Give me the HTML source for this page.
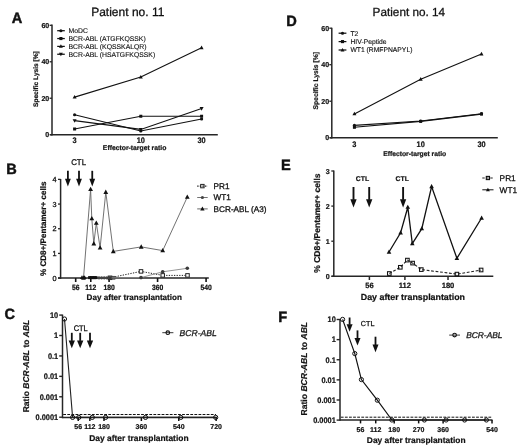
<!DOCTYPE html>
<html><head><meta charset="utf-8"><style>
html,body{margin:0;padding:0;background:#fff;width:520px;height:446px;overflow:hidden}
svg{display:block;will-change:transform}
text{font-family:"Liberation Sans", sans-serif;stroke:#111;stroke-width:0.28px;text-rendering:geometricPrecision}
text[font-weight="bold"]{stroke-width:0.2px}
</style></head><body>
<svg width="520" height="446" viewBox="0 0 520 446">
<rect width="520" height="446" fill="#fff"/>
<text transform="translate(11.85,22.60) scale(1,1.02)" font-size="14.6" font-weight="bold" text-anchor="start" fill="#111" style="stroke-width:0.45px">A</text>
<text x="91.20" y="15.60" font-size="12.0" text-anchor="start" fill="#111">Patient no. 11</text>
<line x1="52.00" y1="24.60" x2="52.00" y2="135.45" stroke="#262626" stroke-width="1.5" stroke-linecap="butt"/>
<line x1="50.20" y1="134.70" x2="217.80" y2="134.70" stroke="#262626" stroke-width="1.5" stroke-linecap="butt"/>
<line x1="49.60" y1="134.70" x2="52.00" y2="134.70" stroke="#262626" stroke-width="1.3" stroke-linecap="butt"/>
<text x="49.30" y="137.35" font-size="7.1" font-weight="bold" text-anchor="end" fill="#111">0</text>
<line x1="49.60" y1="98.24" x2="52.00" y2="98.24" stroke="#262626" stroke-width="1.3" stroke-linecap="butt"/>
<text x="49.30" y="100.89" font-size="7.1" font-weight="bold" text-anchor="end" fill="#111">20</text>
<line x1="49.60" y1="61.78" x2="52.00" y2="61.78" stroke="#262626" stroke-width="1.3" stroke-linecap="butt"/>
<text x="49.30" y="64.43" font-size="7.1" font-weight="bold" text-anchor="end" fill="#111">40</text>
<line x1="49.60" y1="25.32" x2="52.00" y2="25.32" stroke="#262626" stroke-width="1.3" stroke-linecap="butt"/>
<text x="49.30" y="27.97" font-size="7.1" font-weight="bold" text-anchor="end" fill="#111">60</text>
<text transform="translate(74.60,143.10) scale(1,1.1)" font-size="7.4" font-weight="bold" text-anchor="middle" fill="#111">3</text>
<text transform="translate(140.80,143.10) scale(1,1.1)" font-size="7.4" font-weight="bold" text-anchor="middle" fill="#111">10</text>
<text transform="translate(201.60,143.10) scale(1,1.1)" font-size="7.4" font-weight="bold" text-anchor="middle" fill="#111">30</text>
<text x="134.60" y="149.60" font-size="6.8" font-weight="bold" text-anchor="middle" fill="#111">Effector-target ratio</text>
<text transform="translate(38.40,79.10) rotate(-90)" font-size="6.6" font-weight="bold" text-anchor="middle" fill="#111">Specific Lysis [%]</text>
<polyline points="74.60,114.75 140.80,131.00 201.60,119.00" fill="none" stroke="#111" stroke-width="1.1" stroke-linejoin="miter"/>
<circle cx="74.60" cy="114.75" r="1.6" fill="#111"/>
<circle cx="140.80" cy="131.00" r="1.6" fill="#111"/>
<circle cx="201.60" cy="119.00" r="1.6" fill="#111"/>
<polyline points="74.60,129.00 140.80,116.25 201.60,116.25" fill="none" stroke="#111" stroke-width="1.1" stroke-linejoin="miter"/>
<rect x="73.10" y="127.50" width="3.0" height="3.0" fill="#111"/>
<rect x="139.30" y="114.75" width="3.0" height="3.0" fill="#111"/>
<rect x="200.10" y="114.75" width="3.0" height="3.0" fill="#111"/>
<polyline points="74.60,97.10 140.80,77.10 201.60,47.75" fill="none" stroke="#111" stroke-width="1.1" stroke-linejoin="miter"/>
<polygon points="74.60,94.94 72.60,98.54 76.60,98.54" fill="#111"/>
<polygon points="140.80,74.94 138.80,78.54 142.80,78.54" fill="#111"/>
<polygon points="201.60,45.59 199.60,49.19 203.60,49.19" fill="#111"/>
<polyline points="74.60,120.60 140.80,129.40 201.60,108.50" fill="none" stroke="#111" stroke-width="1.1" stroke-linejoin="miter"/>
<polygon points="74.60,122.76 72.60,119.16 76.60,119.16" fill="#111"/>
<polygon points="140.80,131.56 138.80,127.96 142.80,127.96" fill="#111"/>
<polygon points="201.60,110.66 199.60,107.06 203.60,107.06" fill="#111"/>
<line x1="57.20" y1="30.70" x2="64.80" y2="30.70" stroke="#111" stroke-width="1.25" stroke-linecap="butt"/>
<circle cx="60.90" cy="30.70" r="1.55" fill="#111"/>
<text x="68.50" y="33.15" font-size="6.85" text-anchor="start" fill="#111" style="stroke-width:0.12px">MoDC</text>
<line x1="57.20" y1="38.55" x2="64.80" y2="38.55" stroke="#111" stroke-width="1.25" stroke-linecap="butt"/>
<rect x="59.35" y="37.00" width="3.1" height="3.1" fill="#111"/>
<text x="68.50" y="41.00" font-size="6.85" text-anchor="start" fill="#111" style="stroke-width:0.12px">BCR-ABL (ATGFKQSSK)</text>
<line x1="57.20" y1="46.40" x2="64.80" y2="46.40" stroke="#111" stroke-width="1.25" stroke-linecap="butt"/>
<polygon points="60.90,44.29 58.95,47.80 62.85,47.80" fill="#111"/>
<text x="68.50" y="48.85" font-size="6.85" text-anchor="start" fill="#111" style="stroke-width:0.12px">BCR-ABL (KQSSKALQR)</text>
<line x1="57.20" y1="54.25" x2="64.80" y2="54.25" stroke="#111" stroke-width="1.25" stroke-linecap="butt"/>
<polygon points="60.90,56.36 58.95,52.85 62.85,52.85" fill="#111"/>
<text x="68.50" y="56.70" font-size="6.85" text-anchor="start" fill="#111" style="stroke-width:0.12px">BCR-ABL (HSATGFKQSSK)</text>
<text transform="translate(286.20,26.30) scale(1,1.02)" font-size="14.6" font-weight="bold" text-anchor="start" fill="#111" style="stroke-width:0.45px">D</text>
<text x="372.60" y="15.60" font-size="11.75" text-anchor="start" fill="#111">Patient no. 14</text>
<line x1="331.80" y1="27.80" x2="331.80" y2="138.50" stroke="#262626" stroke-width="1.5" stroke-linecap="butt"/>
<line x1="329.90" y1="137.75" x2="497.80" y2="137.75" stroke="#262626" stroke-width="1.5" stroke-linecap="butt"/>
<line x1="329.30" y1="137.75" x2="331.80" y2="137.75" stroke="#262626" stroke-width="1.3" stroke-linecap="butt"/>
<text x="329.10" y="140.40" font-size="7.1" font-weight="bold" text-anchor="end" fill="#111">0</text>
<line x1="329.30" y1="101.23" x2="331.80" y2="101.23" stroke="#262626" stroke-width="1.3" stroke-linecap="butt"/>
<text x="329.10" y="103.88" font-size="7.1" font-weight="bold" text-anchor="end" fill="#111">20</text>
<line x1="329.30" y1="64.71" x2="331.80" y2="64.71" stroke="#262626" stroke-width="1.3" stroke-linecap="butt"/>
<text x="329.10" y="67.36" font-size="7.1" font-weight="bold" text-anchor="end" fill="#111">40</text>
<line x1="329.30" y1="28.19" x2="331.80" y2="28.19" stroke="#262626" stroke-width="1.3" stroke-linecap="butt"/>
<text x="329.10" y="30.84" font-size="7.1" font-weight="bold" text-anchor="end" fill="#111">60</text>
<text transform="translate(354.40,146.60) scale(1,1.1)" font-size="7.4" font-weight="bold" text-anchor="middle" fill="#111">3</text>
<text transform="translate(420.70,146.60) scale(1,1.1)" font-size="7.4" font-weight="bold" text-anchor="middle" fill="#111">10</text>
<text transform="translate(481.50,146.60) scale(1,1.1)" font-size="7.4" font-weight="bold" text-anchor="middle" fill="#111">30</text>
<text x="414.70" y="155.60" font-size="6.75" font-weight="bold" text-anchor="middle" fill="#111">Effector-target ratio</text>
<text transform="translate(318.00,80.80) rotate(-90)" font-size="6.8" font-weight="bold" text-anchor="middle" fill="#111">Specific Lysis [%]</text>
<polyline points="354.40,125.40 420.70,121.00 481.50,113.70" fill="none" stroke="#111" stroke-width="1.1" stroke-linejoin="miter"/>
<circle cx="354.40" cy="125.40" r="1.6" fill="#111"/>
<circle cx="420.70" cy="121.00" r="1.6" fill="#111"/>
<circle cx="481.50" cy="113.70" r="1.6" fill="#111"/>
<polyline points="354.40,127.30 420.70,121.40 481.50,114.10" fill="none" stroke="#111" stroke-width="1.1" stroke-linejoin="miter"/>
<rect x="352.90" y="125.80" width="3.0" height="3.0" fill="#111"/>
<rect x="419.20" y="119.90" width="3.0" height="3.0" fill="#111"/>
<rect x="480.00" y="112.60" width="3.0" height="3.0" fill="#111"/>
<polyline points="354.40,113.90 420.70,79.20 481.50,54.00" fill="none" stroke="#111" stroke-width="1.1" stroke-linejoin="miter"/>
<polygon points="354.40,111.74 352.40,115.34 356.40,115.34" fill="#111"/>
<polygon points="420.70,77.04 418.70,80.64 422.70,80.64" fill="#111"/>
<polygon points="481.50,51.84 479.50,55.44 483.50,55.44" fill="#111"/>
<line x1="338.60" y1="33.20" x2="346.40" y2="33.20" stroke="#111" stroke-width="1.25" stroke-linecap="butt"/>
<circle cx="342.50" cy="33.20" r="1.55" fill="#111"/>
<text x="350.50" y="35.65" font-size="6.75" text-anchor="start" fill="#111" style="stroke-width:0.12px">T2</text>
<line x1="338.60" y1="41.60" x2="346.40" y2="41.60" stroke="#111" stroke-width="1.25" stroke-linecap="butt"/>
<rect x="340.95" y="40.05" width="3.1" height="3.1" fill="#111"/>
<text x="350.50" y="44.05" font-size="6.75" text-anchor="start" fill="#111" style="stroke-width:0.12px">HIV-Peptide</text>
<line x1="338.60" y1="50.00" x2="346.40" y2="50.00" stroke="#111" stroke-width="1.25" stroke-linecap="butt"/>
<polygon points="342.50,47.89 340.55,51.40 344.45,51.40" fill="#111"/>
<text x="350.50" y="52.45" font-size="6.75" text-anchor="start" fill="#111" style="stroke-width:0.12px">WT1 (RMFPNAPYL)</text>
<text transform="translate(6.20,173.60) scale(1,1.02)" font-size="14.6" font-weight="bold" text-anchor="start" fill="#111" style="stroke-width:0.45px">B</text>
<line x1="60.60" y1="179.00" x2="60.60" y2="278.85" stroke="#262626" stroke-width="1.5" stroke-linecap="butt"/>
<line x1="58.00" y1="278.10" x2="208.80" y2="278.10" stroke="#262626" stroke-width="1.5" stroke-linecap="butt"/>
<line x1="58.00" y1="278.10" x2="60.60" y2="278.10" stroke="#262626" stroke-width="1.3" stroke-linecap="butt"/>
<text x="56.60" y="280.70" font-size="7.3" text-anchor="end" fill="#111">0</text>
<line x1="58.00" y1="253.42" x2="60.60" y2="253.42" stroke="#262626" stroke-width="1.3" stroke-linecap="butt"/>
<text x="56.60" y="256.02" font-size="7.3" text-anchor="end" fill="#111">1</text>
<line x1="58.00" y1="228.74" x2="60.60" y2="228.74" stroke="#262626" stroke-width="1.3" stroke-linecap="butt"/>
<text x="56.60" y="231.34" font-size="7.3" text-anchor="end" fill="#111">2</text>
<line x1="58.00" y1="204.06" x2="60.60" y2="204.06" stroke="#262626" stroke-width="1.3" stroke-linecap="butt"/>
<text x="56.60" y="206.66" font-size="7.3" text-anchor="end" fill="#111">3</text>
<line x1="58.00" y1="179.38" x2="60.60" y2="179.38" stroke="#262626" stroke-width="1.3" stroke-linecap="butt"/>
<text x="56.60" y="181.98" font-size="7.3" text-anchor="end" fill="#111">4</text>
<line x1="75.69" y1="278.10" x2="75.69" y2="282.00" stroke="#111" stroke-width="1.6" stroke-linecap="butt"/>
<text transform="translate(75.69,289.60) scale(1,1.12)" font-size="6.8" font-weight="bold" text-anchor="middle" fill="#111">56</text>
<line x1="90.77" y1="278.10" x2="90.77" y2="282.00" stroke="#111" stroke-width="1.6" stroke-linecap="butt"/>
<text transform="translate(90.77,289.60) scale(1,1.12)" font-size="6.8" font-weight="bold" text-anchor="middle" fill="#111">112</text>
<line x1="109.09" y1="278.10" x2="109.09" y2="282.00" stroke="#111" stroke-width="1.6" stroke-linecap="butt"/>
<text transform="translate(109.09,289.60) scale(1,1.12)" font-size="6.8" font-weight="bold" text-anchor="middle" fill="#111">180</text>
<line x1="157.58" y1="278.10" x2="157.58" y2="282.00" stroke="#111" stroke-width="1.6" stroke-linecap="butt"/>
<text transform="translate(157.58,289.60) scale(1,1.12)" font-size="6.8" font-weight="bold" text-anchor="middle" fill="#111">360</text>
<line x1="206.08" y1="278.10" x2="206.08" y2="282.00" stroke="#111" stroke-width="1.6" stroke-linecap="butt"/>
<text transform="translate(206.08,289.60) scale(1,1.12)" font-size="6.8" font-weight="bold" text-anchor="middle" fill="#111">540</text>
<text x="134.30" y="299.90" font-size="8.1" font-weight="bold" text-anchor="middle" fill="#111">Day after transplantation</text>
<text transform="translate(46.30,228.80) rotate(-90)" font-size="8.1" font-weight="bold" text-anchor="middle" fill="#111">% CD8+/Pentamer+ cells</text>
<text transform="translate(78.60,165.00) scale(1,1.06)" font-size="7.8" text-anchor="middle" fill="#111">CTL</text>
<line x1="67.90" y1="170.80" x2="67.90" y2="179.30" stroke="#111" stroke-width="1.8" stroke-linecap="butt"/>
<polygon points="65.00,178.80 70.80,178.80 67.90,186.60" fill="#111"/>
<line x1="79.00" y1="170.80" x2="79.00" y2="179.30" stroke="#111" stroke-width="1.8" stroke-linecap="butt"/>
<polygon points="76.10,178.80 81.90,178.80 79.00,186.60" fill="#111"/>
<line x1="92.25" y1="170.80" x2="92.25" y2="179.30" stroke="#111" stroke-width="1.8" stroke-linecap="butt"/>
<polygon points="89.35,178.80 95.15,178.80 92.25,186.60" fill="#111"/>
<polyline points="83.50,278.10 90.60,189.30 91.80,218.60 93.80,243.70 96.30,223.00 100.10,247.80 105.80,192.20 113.30,251.40 141.20,246.90 162.70,250.60 187.30,197.10" fill="none" stroke="#6a6a6a" stroke-width="0.95" stroke-linejoin="miter"/>
<polygon points="83.50,275.51 81.10,279.83 85.90,279.83" fill="#111"/>
<polygon points="90.60,186.71 88.20,191.03 93.00,191.03" fill="#111"/>
<polygon points="91.80,216.01 89.40,220.33 94.20,220.33" fill="#111"/>
<polygon points="93.80,241.11 91.40,245.43 96.20,245.43" fill="#111"/>
<polygon points="96.30,220.41 93.90,224.73 98.70,224.73" fill="#111"/>
<polygon points="100.10,245.21 97.70,249.53 102.50,249.53" fill="#111"/>
<polygon points="105.80,189.61 103.40,193.93 108.20,193.93" fill="#111"/>
<polygon points="113.30,248.81 110.90,253.13 115.70,253.13" fill="#111"/>
<polygon points="141.20,244.31 138.80,248.63 143.60,248.63" fill="#111"/>
<polygon points="162.70,248.01 160.30,252.33 165.10,252.33" fill="#111"/>
<polygon points="187.30,194.51 184.90,198.83 189.70,198.83" fill="#111"/>
<polygon points="82.00,275.33 79.90,279.11 84.10,279.11" fill="#111"/>
<polygon points="84.60,275.33 82.50,279.11 86.70,279.11" fill="#111"/>
<rect x="88.10" y="276.10" width="3.0" height="3.0" fill="#111"/>
<rect x="89.70" y="276.10" width="3.0" height="3.0" fill="#111"/>
<rect x="91.30" y="276.10" width="3.0" height="3.0" fill="#111"/>
<rect x="92.90" y="276.10" width="3.0" height="3.0" fill="#111"/>
<rect x="94.50" y="276.10" width="3.0" height="3.0" fill="#111"/>
<circle cx="99.00" cy="277.80" r="1.6" fill="#444"/>
<circle cx="101.60" cy="277.80" r="1.6" fill="#444"/>
<circle cx="104.20" cy="277.80" r="1.6" fill="#444"/>
<circle cx="106.80" cy="277.80" r="1.6" fill="#444"/>
<polyline points="110.00,277.80 141.00,271.40 162.70,275.40 187.50,275.40" fill="none" stroke="#222" stroke-width="1.0" stroke-dasharray="1.3,1.3" stroke-linejoin="miter"/>
<rect x="108.25" y="276.05" width="3.5" height="3.5" fill="#fff" stroke="#222" stroke-width="1.0"/>
<rect x="139.25" y="269.65" width="3.5" height="3.5" fill="#fff" stroke="#222" stroke-width="1.0"/>
<rect x="160.95" y="273.65" width="3.5" height="3.5" fill="#fff" stroke="#222" stroke-width="1.0"/>
<rect x="185.75" y="273.65" width="3.5" height="3.5" fill="#fff" stroke="#222" stroke-width="1.0"/>
<rect x="112.10" y="276.40" width="2.8" height="2.8" fill="none" stroke="#444" stroke-width="0.9"/>
<polyline points="110.00,277.80 141.00,277.60 162.70,271.80 187.30,268.30" fill="none" stroke="#888" stroke-width="0.9" stroke-linejoin="miter"/>
<circle cx="110.00" cy="277.80" r="1.8" fill="#3a3a3a"/>
<circle cx="141.00" cy="277.60" r="1.8" fill="#3a3a3a"/>
<circle cx="162.70" cy="271.80" r="1.8" fill="#3a3a3a"/>
<circle cx="187.30" cy="268.30" r="1.8" fill="#3a3a3a"/>
<line x1="197.20" y1="186.10" x2="207.70" y2="186.10" stroke="#222" stroke-width="1.1" stroke-dasharray="1.4,1.2" stroke-linecap="butt"/>
<rect x="200.70" y="184.40" width="3.4" height="3.4" fill="none" stroke="#222" stroke-width="1.0"/>
<text x="213.60" y="188.90" font-size="8.2" text-anchor="start" fill="#111">PR1</text>
<line x1="197.20" y1="197.50" x2="207.70" y2="197.50" stroke="#6a6a6a" stroke-width="0.95" stroke-linecap="butt"/>
<circle cx="202.40" cy="197.50" r="1.6" fill="#444"/>
<text x="213.60" y="200.30" font-size="8.2" text-anchor="start" fill="#111">WT1</text>
<line x1="197.20" y1="208.90" x2="207.70" y2="208.90" stroke="#6a6a6a" stroke-width="1.0" stroke-linecap="butt"/>
<polygon points="202.40,206.52 200.20,210.48 204.60,210.48" fill="#111"/>
<text x="213.60" y="211.70" font-size="8.2" text-anchor="start" fill="#111">BCR-ABL (A3)</text>
<text transform="translate(280.90,170.00) scale(1,1.02)" font-size="14.6" font-weight="bold" text-anchor="start" fill="#111" style="stroke-width:0.45px">E</text>
<line x1="333.80" y1="170.60" x2="333.80" y2="277.05" stroke="#262626" stroke-width="1.5" stroke-linecap="butt"/>
<line x1="331.50" y1="276.30" x2="493.30" y2="276.30" stroke="#262626" stroke-width="1.5" stroke-linecap="butt"/>
<line x1="331.30" y1="276.30" x2="333.80" y2="276.30" stroke="#262626" stroke-width="1.3" stroke-linecap="butt"/>
<text x="329.60" y="278.95" font-size="7.1" font-weight="bold" text-anchor="end" fill="#111">0</text>
<line x1="331.30" y1="241.20" x2="333.80" y2="241.20" stroke="#262626" stroke-width="1.3" stroke-linecap="butt"/>
<text x="329.60" y="243.85" font-size="7.1" font-weight="bold" text-anchor="end" fill="#111">1</text>
<line x1="331.30" y1="206.10" x2="333.80" y2="206.10" stroke="#262626" stroke-width="1.3" stroke-linecap="butt"/>
<text x="329.60" y="208.75" font-size="7.1" font-weight="bold" text-anchor="end" fill="#111">2</text>
<line x1="331.30" y1="171.00" x2="333.80" y2="171.00" stroke="#262626" stroke-width="1.3" stroke-linecap="butt"/>
<text x="329.60" y="173.65" font-size="7.1" font-weight="bold" text-anchor="end" fill="#111">3</text>
<line x1="369.40" y1="276.30" x2="369.40" y2="280.00" stroke="#262626" stroke-width="1.5" stroke-linecap="butt"/>
<text x="369.40" y="288.40" font-size="7.6" font-weight="bold" text-anchor="middle" fill="#111">56</text>
<line x1="404.91" y1="276.30" x2="404.91" y2="280.00" stroke="#262626" stroke-width="1.5" stroke-linecap="butt"/>
<text x="404.91" y="288.40" font-size="7.6" font-weight="bold" text-anchor="middle" fill="#111">112</text>
<line x1="448.02" y1="276.30" x2="448.02" y2="280.00" stroke="#262626" stroke-width="1.5" stroke-linecap="butt"/>
<text x="448.02" y="288.40" font-size="7.6" font-weight="bold" text-anchor="middle" fill="#111">180</text>
<text x="412.90" y="300.30" font-size="8.85" font-weight="bold" text-anchor="middle" fill="#111">Day after transplantation</text>
<text transform="translate(320.00,223.10) rotate(-90)" font-size="8.5" font-weight="bold" text-anchor="middle" fill="#111">% CD8+/Pentamer+ cells</text>
<text x="362.50" y="180.80" font-size="6.9" font-weight="bold" text-anchor="middle" fill="#111">CTL</text>
<text x="402.30" y="180.80" font-size="6.9" font-weight="bold" text-anchor="middle" fill="#111">CTL</text>
<line x1="353.50" y1="187.00" x2="353.50" y2="199.80" stroke="#111" stroke-width="1.9" stroke-linecap="butt"/>
<polygon points="350.35,199.30 356.65,199.30 353.50,207.50" fill="#111"/>
<line x1="369.20" y1="187.00" x2="369.20" y2="199.80" stroke="#111" stroke-width="1.9" stroke-linecap="butt"/>
<polygon points="366.05,199.30 372.35,199.30 369.20,207.50" fill="#111"/>
<line x1="403.10" y1="187.00" x2="403.10" y2="199.80" stroke="#111" stroke-width="1.9" stroke-linecap="butt"/>
<polygon points="399.95,199.30 406.25,199.30 403.10,207.50" fill="#111"/>
<polyline points="389.00,252.00 400.60,232.80 407.80,207.20 412.30,243.60 421.80,228.70 431.60,186.60 456.90,258.30 481.60,218.00" fill="none" stroke="#111" stroke-width="1.3" stroke-linejoin="miter"/>
<polygon points="389.00,249.52 386.70,253.66 391.30,253.66" fill="#111"/>
<polygon points="400.60,230.32 398.30,234.46 402.90,234.46" fill="#111"/>
<polygon points="407.80,204.72 405.50,208.86 410.10,208.86" fill="#111"/>
<polygon points="412.30,241.12 410.00,245.26 414.60,245.26" fill="#111"/>
<polygon points="421.80,226.22 419.50,230.36 424.10,230.36" fill="#111"/>
<polygon points="431.60,184.12 429.30,188.26 433.90,188.26" fill="#111"/>
<polygon points="456.90,255.82 454.60,259.96 459.20,259.96" fill="#111"/>
<polygon points="481.60,215.52 479.30,219.66 483.90,219.66" fill="#111"/>
<polyline points="389.30,273.50 400.30,267.30 407.40,260.10 412.60,263.10 421.30,269.60 456.90,274.10 481.10,270.00" fill="none" stroke="#222" stroke-width="1.1" stroke-dasharray="2.8,1.7" stroke-linejoin="miter"/>
<rect x="387.50" y="271.70" width="3.6" height="3.6" fill="none" stroke="#111" stroke-width="1.05"/>
<rect x="398.50" y="265.50" width="3.6" height="3.6" fill="none" stroke="#111" stroke-width="1.05"/>
<rect x="405.60" y="258.30" width="3.6" height="3.6" fill="none" stroke="#111" stroke-width="1.05"/>
<rect x="410.80" y="261.30" width="3.6" height="3.6" fill="none" stroke="#111" stroke-width="1.05"/>
<rect x="419.50" y="267.80" width="3.6" height="3.6" fill="none" stroke="#111" stroke-width="1.05"/>
<rect x="455.10" y="272.30" width="3.6" height="3.6" fill="none" stroke="#111" stroke-width="1.05"/>
<rect x="479.30" y="268.20" width="3.6" height="3.6" fill="none" stroke="#111" stroke-width="1.05"/>
<line x1="482.30" y1="178.00" x2="493.50" y2="178.00" stroke="#222" stroke-width="1.1" stroke-dasharray="2.4,1.6" stroke-linecap="butt"/>
<rect x="486.30" y="176.40" width="3.2" height="3.2" fill="none" stroke="#111" stroke-width="1.1"/>
<text x="499.60" y="180.90" font-size="8.3" text-anchor="start" fill="#111">PR1</text>
<line x1="482.30" y1="189.80" x2="493.50" y2="189.80" stroke="#111" stroke-width="1.0" stroke-linecap="butt"/>
<polygon points="487.90,187.64 485.90,191.24 489.90,191.24" fill="#111"/>
<text x="499.60" y="192.70" font-size="8.3" text-anchor="start" fill="#111">WT1</text>
<text transform="translate(4.50,319.00) scale(1,1.02)" font-size="14.6" font-weight="bold" text-anchor="start" fill="#111" style="stroke-width:0.45px">C</text>
<line x1="62.50" y1="314.60" x2="62.50" y2="418.25" stroke="#262626" stroke-width="1.5" stroke-linecap="butt"/>
<line x1="62.50" y1="417.50" x2="217.20" y2="417.50" stroke="#262626" stroke-width="1.5" stroke-linecap="butt"/>
<line x1="59.20" y1="315.10" x2="62.50" y2="315.10" stroke="#262626" stroke-width="1.4" stroke-linecap="butt"/>
<text transform="translate(58.20,317.95) scale(1,1.1)" font-size="7.4" font-weight="bold" text-anchor="end" fill="#111">10</text>
<line x1="59.20" y1="335.52" x2="62.50" y2="335.52" stroke="#262626" stroke-width="1.4" stroke-linecap="butt"/>
<text transform="translate(58.20,338.37) scale(1,1.1)" font-size="7.4" font-weight="bold" text-anchor="end" fill="#111">1</text>
<line x1="59.20" y1="355.94" x2="62.50" y2="355.94" stroke="#262626" stroke-width="1.4" stroke-linecap="butt"/>
<text transform="translate(58.20,358.79) scale(1,1.1)" font-size="7.4" font-weight="bold" text-anchor="end" fill="#111">0.1</text>
<line x1="59.20" y1="376.36" x2="62.50" y2="376.36" stroke="#262626" stroke-width="1.4" stroke-linecap="butt"/>
<text transform="translate(58.20,379.21) scale(1,1.1)" font-size="7.4" font-weight="bold" text-anchor="end" fill="#111">0.01</text>
<line x1="59.20" y1="396.78" x2="62.50" y2="396.78" stroke="#262626" stroke-width="1.4" stroke-linecap="butt"/>
<text transform="translate(58.20,399.63) scale(1,1.1)" font-size="7.4" font-weight="bold" text-anchor="end" fill="#111">0.001</text>
<line x1="59.20" y1="417.20" x2="62.50" y2="417.20" stroke="#262626" stroke-width="1.4" stroke-linecap="butt"/>
<text transform="translate(58.20,420.05) scale(1,1.1)" font-size="7.4" font-weight="bold" text-anchor="end" fill="#111">0.0001</text>
<line x1="78.23" y1="417.50" x2="78.23" y2="421.00" stroke="#111" stroke-width="1.5" stroke-linecap="butt"/>
<text x="78.23" y="429.20" font-size="7.0" font-weight="bold" text-anchor="middle" fill="#111">56</text>
<line x1="89.86" y1="417.50" x2="89.86" y2="421.00" stroke="#111" stroke-width="1.5" stroke-linecap="butt"/>
<text x="89.86" y="429.20" font-size="7.0" font-weight="bold" text-anchor="middle" fill="#111">112</text>
<line x1="103.99" y1="417.50" x2="103.99" y2="421.00" stroke="#111" stroke-width="1.5" stroke-linecap="butt"/>
<text x="103.99" y="429.20" font-size="7.0" font-weight="bold" text-anchor="middle" fill="#111">180</text>
<line x1="141.37" y1="417.50" x2="141.37" y2="421.00" stroke="#111" stroke-width="1.5" stroke-linecap="butt"/>
<text x="141.37" y="429.20" font-size="7.0" font-weight="bold" text-anchor="middle" fill="#111">360</text>
<line x1="178.76" y1="417.50" x2="178.76" y2="421.00" stroke="#111" stroke-width="1.5" stroke-linecap="butt"/>
<text x="178.76" y="429.20" font-size="7.0" font-weight="bold" text-anchor="middle" fill="#111">540</text>
<line x1="216.14" y1="417.50" x2="216.14" y2="421.00" stroke="#111" stroke-width="1.5" stroke-linecap="butt"/>
<text x="216.14" y="429.20" font-size="7.0" font-weight="bold" text-anchor="middle" fill="#111">720</text>
<line x1="63.20" y1="414.50" x2="216.00" y2="414.50" stroke="#111" stroke-width="1.0" stroke-dasharray="2.8,1.3" stroke-linecap="butt"/>
<text x="138.90" y="441.00" font-size="8.45" font-weight="bold" text-anchor="middle" fill="#111">Day after transplantation</text>
<text transform="translate(28.6,366.0) rotate(-90)" font-size="8.5" font-weight="bold" text-anchor="middle" fill="#111">Ratio <tspan font-style="italic">BCR-ABL</tspan> to <tspan font-style="italic">ABL</tspan></text>
<text transform="translate(80.70,330.60) scale(1,1.1)" font-size="7.4" text-anchor="middle" fill="#111">CTL</text>
<line x1="71.80" y1="332.80" x2="71.80" y2="340.90" stroke="#111" stroke-width="1.8" stroke-linecap="butt"/>
<polygon points="68.65,340.40 74.95,340.40 71.80,348.20" fill="#111"/>
<line x1="80.20" y1="332.80" x2="80.20" y2="340.90" stroke="#111" stroke-width="1.8" stroke-linecap="butt"/>
<polygon points="77.05,340.40 83.35,340.40 80.20,348.20" fill="#111"/>
<line x1="90.00" y1="332.80" x2="90.00" y2="340.90" stroke="#111" stroke-width="1.8" stroke-linecap="butt"/>
<polygon points="86.85,340.40 93.15,340.40 90.00,348.20" fill="#111"/>
<polyline points="64.50,319.00 72.60,417.40 78.80,417.40 92.30,417.40 105.60,417.40 145.50,417.40 180.80,417.40 215.70,417.40" fill="none" stroke="#222" stroke-width="1.1" stroke-linejoin="miter"/>
<circle cx="64.50" cy="319.00" r="2.1" fill="none" stroke="#111" stroke-width="1.0"/>
<circle cx="72.60" cy="417.40" r="2.1" fill="none" stroke="#111" stroke-width="1.0"/>
<circle cx="78.80" cy="417.40" r="2.1" fill="none" stroke="#111" stroke-width="1.0"/>
<circle cx="92.30" cy="417.40" r="2.1" fill="none" stroke="#111" stroke-width="1.0"/>
<circle cx="105.60" cy="417.40" r="2.1" fill="none" stroke="#111" stroke-width="1.0"/>
<circle cx="145.50" cy="417.40" r="2.1" fill="none" stroke="#111" stroke-width="1.0"/>
<circle cx="180.80" cy="417.40" r="2.1" fill="none" stroke="#111" stroke-width="1.0"/>
<circle cx="215.70" cy="417.40" r="2.1" fill="none" stroke="#111" stroke-width="1.0"/>
<line x1="162.30" y1="332.70" x2="173.40" y2="332.70" stroke="#222" stroke-width="0.9" stroke-linecap="butt"/>
<circle cx="167.80" cy="332.70" r="1.8" fill="none" stroke="#111" stroke-width="1.1"/>
<text x="179.60" y="335.60" font-size="8.55" font-style="italic" text-anchor="start" fill="#222">BCR-ABL</text>
<text transform="translate(278.30,321.90) scale(1,1.02)" font-size="14.6" font-weight="bold" text-anchor="start" fill="#111" style="stroke-width:0.45px">F</text>
<line x1="340.00" y1="319.00" x2="340.00" y2="420.75" stroke="#262626" stroke-width="1.5" stroke-linecap="butt"/>
<line x1="340.00" y1="420.00" x2="492.50" y2="420.00" stroke="#262626" stroke-width="1.5" stroke-linecap="butt"/>
<line x1="336.60" y1="319.50" x2="340.00" y2="319.50" stroke="#262626" stroke-width="1.4" stroke-linecap="butt"/>
<text transform="translate(335.80,322.35) scale(1,1.1)" font-size="7.4" font-weight="bold" text-anchor="end" fill="#111">10</text>
<line x1="336.60" y1="339.62" x2="340.00" y2="339.62" stroke="#262626" stroke-width="1.4" stroke-linecap="butt"/>
<text transform="translate(335.80,342.47) scale(1,1.1)" font-size="7.4" font-weight="bold" text-anchor="end" fill="#111">1</text>
<line x1="336.60" y1="359.74" x2="340.00" y2="359.74" stroke="#262626" stroke-width="1.4" stroke-linecap="butt"/>
<text transform="translate(335.80,362.59) scale(1,1.1)" font-size="7.4" font-weight="bold" text-anchor="end" fill="#111">0.1</text>
<line x1="336.60" y1="379.86" x2="340.00" y2="379.86" stroke="#262626" stroke-width="1.4" stroke-linecap="butt"/>
<text transform="translate(335.80,382.71) scale(1,1.1)" font-size="7.4" font-weight="bold" text-anchor="end" fill="#111">0.01</text>
<line x1="336.60" y1="399.98" x2="340.00" y2="399.98" stroke="#262626" stroke-width="1.4" stroke-linecap="butt"/>
<text transform="translate(335.80,402.83) scale(1,1.1)" font-size="7.4" font-weight="bold" text-anchor="end" fill="#111">0.001</text>
<line x1="336.60" y1="420.10" x2="340.00" y2="420.10" stroke="#262626" stroke-width="1.4" stroke-linecap="butt"/>
<text transform="translate(335.80,422.95) scale(1,1.1)" font-size="7.4" font-weight="bold" text-anchor="end" fill="#111">0.0001</text>
<line x1="360.52" y1="420.00" x2="360.52" y2="423.40" stroke="#111" stroke-width="1.5" stroke-linecap="butt"/>
<text x="360.52" y="432.10" font-size="7.0" font-weight="bold" text-anchor="middle" fill="#111">56</text>
<line x1="375.73" y1="420.00" x2="375.73" y2="423.40" stroke="#111" stroke-width="1.5" stroke-linecap="butt"/>
<text x="375.73" y="432.10" font-size="7.0" font-weight="bold" text-anchor="middle" fill="#111">112</text>
<line x1="394.21" y1="420.00" x2="394.21" y2="423.40" stroke="#111" stroke-width="1.5" stroke-linecap="butt"/>
<text x="394.21" y="432.10" font-size="7.0" font-weight="bold" text-anchor="middle" fill="#111">180</text>
<line x1="418.66" y1="420.00" x2="418.66" y2="423.40" stroke="#111" stroke-width="1.5" stroke-linecap="butt"/>
<text x="418.66" y="432.10" font-size="7.0" font-weight="bold" text-anchor="middle" fill="#111">270</text>
<line x1="443.11" y1="420.00" x2="443.11" y2="423.40" stroke="#111" stroke-width="1.5" stroke-linecap="butt"/>
<text x="443.11" y="432.10" font-size="7.0" font-weight="bold" text-anchor="middle" fill="#111">360</text>
<line x1="492.02" y1="420.00" x2="492.02" y2="423.40" stroke="#111" stroke-width="1.5" stroke-linecap="butt"/>
<text x="492.02" y="432.10" font-size="7.0" font-weight="bold" text-anchor="middle" fill="#111">540</text>
<line x1="340.80" y1="417.20" x2="492.00" y2="417.20" stroke="#111" stroke-width="1.0" stroke-dasharray="2.8,1.3" stroke-linecap="butt"/>
<text x="416.20" y="443.10" font-size="8.4" font-weight="bold" text-anchor="middle" fill="#111">Day after transplantation</text>
<text transform="translate(307.0,368.7) rotate(-90)" font-size="8.6" font-weight="bold" text-anchor="middle" fill="#111">Ratio <tspan font-style="italic">BCR-ABL</tspan> to <tspan font-style="italic">ABL</tspan></text>
<text x="367.60" y="326.00" font-size="7.2" text-anchor="middle" fill="#111">CTL</text>
<line x1="349.60" y1="317.50" x2="349.60" y2="324.70" stroke="#111" stroke-width="1.8" stroke-linecap="butt"/>
<polygon points="346.60,324.20 352.60,324.20 349.60,331.80" fill="#111"/>
<line x1="357.50" y1="330.40" x2="357.50" y2="338.40" stroke="#111" stroke-width="1.8" stroke-linecap="butt"/>
<polygon points="354.50,337.90 360.50,337.90 357.50,345.50" fill="#111"/>
<line x1="375.50" y1="336.70" x2="375.50" y2="345.10" stroke="#111" stroke-width="1.8" stroke-linecap="butt"/>
<polygon points="372.50,344.60 378.50,344.60 375.50,352.20" fill="#111"/>
<polyline points="342.60,319.40 354.80,353.60 361.40,379.60 377.30,400.20 391.90,420.00 424.40,420.00 446.10,420.00 464.60,420.00 486.40,420.00" fill="none" stroke="#111" stroke-width="1.2" stroke-linejoin="miter"/>
<circle cx="342.60" cy="319.40" r="2.1" fill="none" stroke="#111" stroke-width="1.0"/>
<circle cx="354.80" cy="353.60" r="2.1" fill="none" stroke="#111" stroke-width="1.0"/>
<circle cx="361.40" cy="379.60" r="2.1" fill="none" stroke="#111" stroke-width="1.0"/>
<circle cx="377.30" cy="400.20" r="2.1" fill="none" stroke="#111" stroke-width="1.0"/>
<circle cx="391.90" cy="420.00" r="2.1" fill="none" stroke="#111" stroke-width="1.0"/>
<circle cx="424.40" cy="420.00" r="2.1" fill="none" stroke="#111" stroke-width="1.0"/>
<circle cx="446.10" cy="420.00" r="2.1" fill="none" stroke="#111" stroke-width="1.0"/>
<circle cx="464.60" cy="420.00" r="2.1" fill="none" stroke="#111" stroke-width="1.0"/>
<circle cx="486.40" cy="420.00" r="2.1" fill="none" stroke="#111" stroke-width="1.0"/>
<line x1="449.20" y1="335.10" x2="460.00" y2="335.10" stroke="#222" stroke-width="0.9" stroke-linecap="butt"/>
<circle cx="454.60" cy="335.10" r="1.8" fill="none" stroke="#111" stroke-width="1.1"/>
<text x="466.20" y="337.80" font-size="8.4" font-style="italic" text-anchor="start" fill="#222">BCR-ABL</text>
</svg>
</body></html>
